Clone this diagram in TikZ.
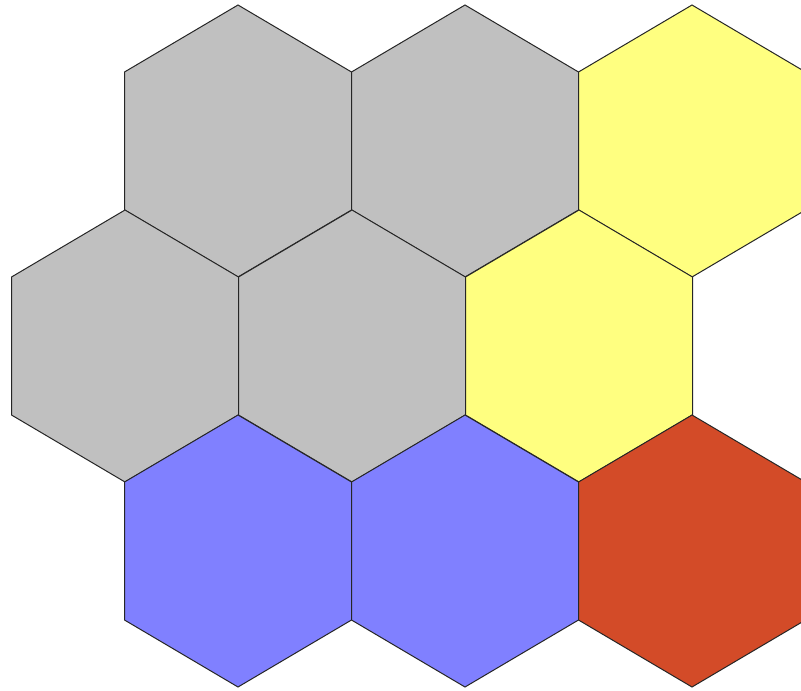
\documentclass[tikz,border=0pt]{standalone}
\definecolor{hexgray}{RGB}{192,192,192}
\definecolor{hexyellow}{RGB}{255,255,128}
\definecolor{hexblue}{RGB}{128,128,255}
\definecolor{hexred}{RGB}{211,75,40}
\tikzset{hexcellstyle/.style={draw=black!85,line width=1pt,line join=miter}}
\newcommand\hexcell[3]{%
  \filldraw[hexcellstyle,fill=#3] ({#1-113.5},{#2-69}) -- (#1,{#2-136}) -- ({#1+113.5},{#2-69})
    -- ({#1+113.5},{#2+69}) -- (#1,{#2+136}) -- ({#1-113.5},{#2+69}) -- cycle;}
\begin{document}
\begin{tikzpicture}[x=1pt,y=-1pt]
\useasboundingbox (0,0) rectangle (801,691);
\clip (0,0) rectangle (801,691);
\fill[white] (0,0) rectangle (801,691);
% row 1
\hexcell{238}{141}{hexgray}
\hexcell{465}{141}{hexgray}
\hexcell{692}{141}{hexyellow}
% row 2
\hexcell{125}{346}{hexgray}
\hexcell{352}{346}{hexgray}
\hexcell{579}{346}{hexyellow}
% row 3
\hexcell{238}{551}{hexblue}
\hexcell{465}{551}{hexblue}
\hexcell{692}{551}{hexred}
\end{tikzpicture}
\end{document}
